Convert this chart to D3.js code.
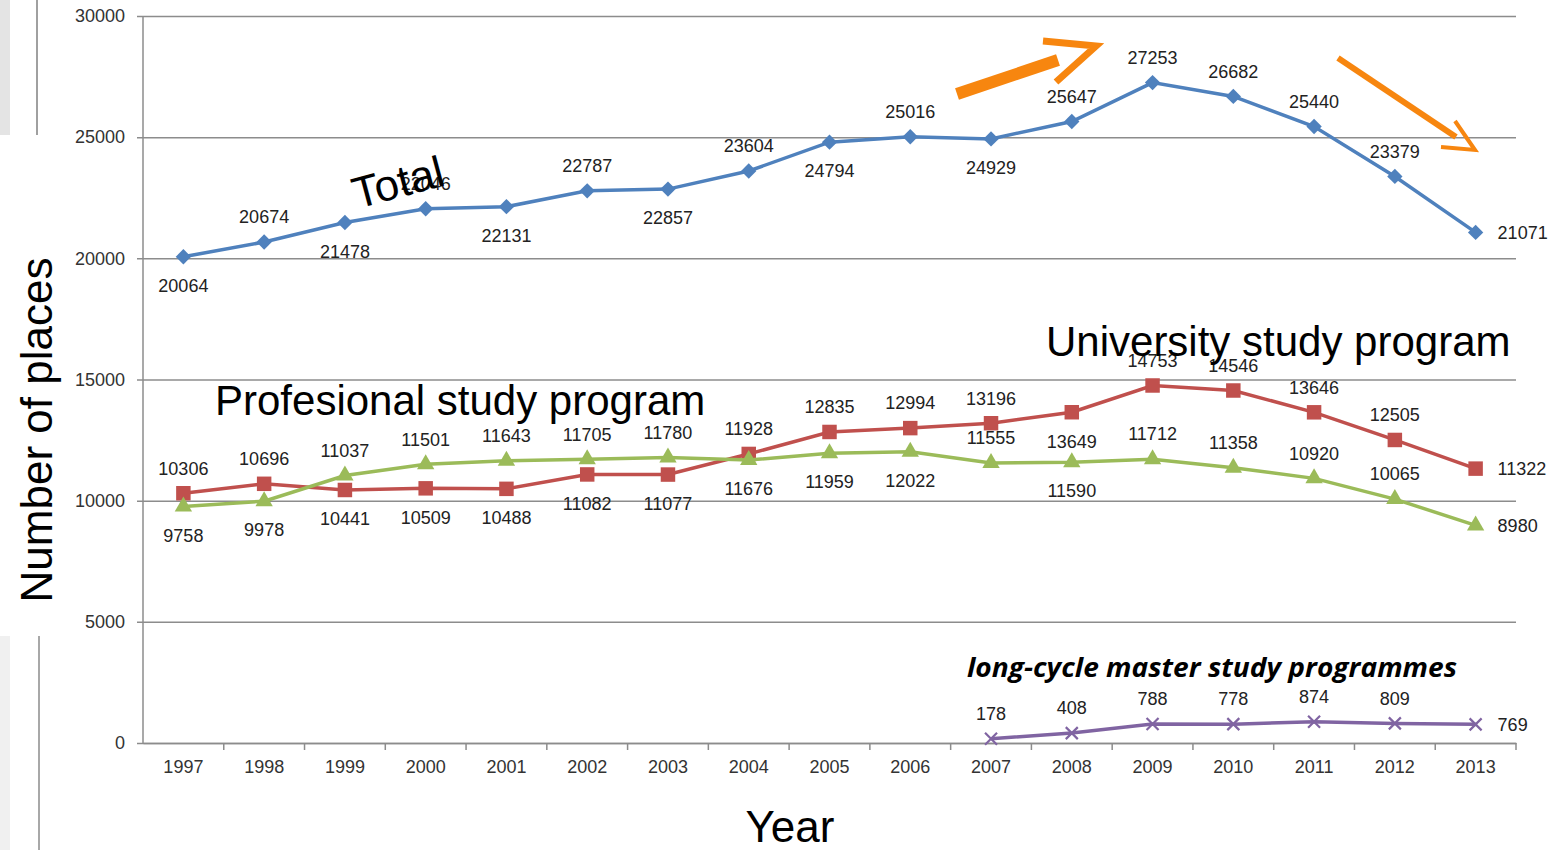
<!DOCTYPE html>
<html>
<head>
<meta charset="utf-8">
<script src="https://cdn.jsdelivr.net/npm/d3@7"></script>
<style>
  body { margin: 0; background: #fff; }
  svg { display: block; font-family: "Liberation Sans", Arial, sans-serif; }
</style>
</head>
<body>
<div id="chart-area"></div>
<script>
// data
const years = ["1997","1998","1999","2000","2001","2002","2003","2004","2005","2006","2007","2008","2009","2010","2011","2012","2013"];
const totalPlaces = [20064,20674,21478,22046,22131,22787,22857,23604,24794,25016,24929,25647,27253,26682,25440,23379,21071];
const universityPlaces = [10306,10696,10441,10509,10488,11082,11077,11928,12835,12994,13196,13649,14753,14546,13646,12505,11322];
const professionalPlaces = [9758,9978,11037,11501,11643,11705,11780,11676,11959,12022,11555,11590,11712,11358,10920,10065,8980];
const masterYears = ["2007","2008","2009","2010","2011","2012","2013"];
const masterPlaces = [178,408,788,778,874,809,769];
const yTicks = [0,5000,10000,15000,20000,25000,30000];

// where each value label sits: a = above, b = below, r = right
const totalLabelSide = ["b","a","b","a","b","a","b","a","b","a","b","a","a","a","a","a","r"];
const universityLabelSide = ["a","a","b","b","b","b","b","a","a","a","a","b","a","a","a","a","r"];
const professionalLabelSide = ["b","b","a","a","a","a","a","b","b","b","a","b","a","a","a","a","r"];
const masterLabelSide = ["a","a","a","a","a","a","r"];

const chartWidth = 1562;
const chartHeight = 850;
const margin = {top: 16, right: 46, bottom: 107, left: 143};

const width = chartWidth - margin.left - margin.right;
const height = chartHeight - margin.top - margin.bottom;

let svg = d3.select("#chart-area").append("svg")
    .attr("width", chartWidth)
    .attr("height", chartHeight);

// slide leftovers on the left edge
svg.append("rect").attr("x", 0).attr("y", 0).attr("width", 10).attr("height", 135).attr("fill", "#e4e4e4");
svg.append("line").attr("x1", 37).attr("x2", 37).attr("y1", 0).attr("y2", 135)
    .attr("stroke", "#a0a0a0").attr("stroke-width", 2);
svg.append("rect").attr("x", 0).attr("y", 636).attr("width", 10).attr("height", 214).attr("fill", "#f0f0f0");
svg.append("line").attr("x1", 39).attr("x2", 39).attr("y1", 636).attr("y2", 850)
    .attr("stroke", "#a8a8a8").attr("stroke-width", 2);

let g = svg.append("g")
    .attr("transform", `translate(${margin.left}, ${margin.top})`);

const x = d3.scaleBand()
    .domain(years)
    .range([0, width])
    .padding(0);

const y = d3.scaleLinear()
    .domain([0, 30000])
    .range([height, 0]);

const cx = (yr) => x(yr) + x.bandwidth() / 2;

// gridlines + y axis
let yAxisCall = d3.axisLeft(y).tickValues(yTicks).tickFormat(d3.format("d"))
    .tickSize(-width).tickSizeOuter(0).tickPadding(18);
let yAxis = g.append("g").attr("class", "y-axis").call(yAxisCall);
yAxis.select(".domain").remove();
yAxis.selectAll(".tick line").attr("stroke", "#8c8c8c").attr("stroke-width", 1.5).attr("x1", -6);
yAxis.selectAll(".tick text").attr("font-size", "18px").attr("fill", "#333");

g.append("line")
    .attr("x1", 0).attr("x2", 0).attr("y1", 0).attr("y2", height)
    .attr("stroke", "#8c8c8c").attr("stroke-width", 1.5);

// x axis with ticks between categories
let xAxisCall = d3.axisBottom(x).tickSize(0).tickPadding(17);
let xAxis = g.append("g")
    .attr("class", "x-axis")
    .attr("transform", `translate(0, ${height})`)
    .call(xAxisCall);
xAxis.select(".domain").attr("stroke", "#8c8c8c").attr("stroke-width", 1.5);
xAxis.selectAll(".tick text").attr("font-size", "18px").attr("fill", "#333");
xAxis.selectAll(".sep").data(years).enter().append("line")
    .attr("class", "sep")
    .attr("x1", (d, i) => x.bandwidth() * (i + 1))
    .attr("x2", (d, i) => x.bandwidth() * (i + 1))
    .attr("y1", 0).attr("y2", 7)
    .attr("stroke", "#8c8c8c").attr("stroke-width", 1.5);

// one series: line, markers, labels
function drawSeries(cats, values, sides, color, shape, size) {
  const pts = cats.map((c, i) => ({x: cx(c), y: y(values[i]), v: values[i], side: sides[i]}));

  g.append("path")
      .datum(pts)
      .attr("fill", "none")
      .attr("stroke", color)
      .attr("stroke-width", 3.5)
      .attr("d", d3.line().x(d => d.x).y(d => d.y));

  if (shape === "x") {
    const s = size / 2;
    g.selectAll(null).data(pts).enter().append("path")
        .attr("d", d => `M${d.x - s},${d.y - s}L${d.x + s},${d.y + s}M${d.x - s},${d.y + s}L${d.x + s},${d.y - s}`)
        .attr("stroke", color)
        .attr("stroke-width", 2.2)
        .attr("fill", "none");
  } else {
    g.selectAll(null).data(pts).enter().append("path")
        .attr("transform", d => `translate(${d.x},${d.y})`)
        .attr("d", d3.symbol().type(shape).size(size))
        .attr("fill", color);
  }

  g.selectAll(null).data(pts).enter().append("text")
      .attr("x", d => d.side === "r" ? d.x + 22 : d.x)
      .attr("y", d => d.side === "a" ? d.y - 25 : d.side === "b" ? d.y + 29 : d.y)
      .attr("dy", "0.35em")
      .attr("text-anchor", d => d.side === "r" ? "start" : "middle")
      .attr("font-size", "18px")
      .attr("fill", "#222")
      .text(d => d.v);
}

drawSeries(years, totalPlaces, totalLabelSide, "#4f81bd", d3.symbolDiamond2, 150);
drawSeries(years, universityPlaces, universityLabelSide, "#c0504d", d3.symbolSquare, 210);
drawSeries(years, professionalPlaces, professionalLabelSide, "#9bbb59", d3.symbolTriangle, 130);
drawSeries(masterYears, masterPlaces, masterLabelSide, "#8064a2", "x", 12);

// axis titles
svg.append("text")
    .attr("transform", "translate(52, 430) rotate(-90)")
    .attr("text-anchor", "middle")
    .attr("font-size", "44px")
    .attr("fill", "#000")
    .text("Number of places");

svg.append("text")
    .attr("x", 790)
    .attr("y", 842)
    .attr("text-anchor", "middle")
    .attr("font-size", "44px")
    .attr("fill", "#000")
    .text("Year");

// series annotations
svg.append("text")
    .attr("transform", "translate(357, 209) rotate(-15)")
    .attr("font-size", "44px")
    .attr("fill", "#000")
    .text("Total");

svg.append("text")
    .attr("x", 1046).attr("y", 356)
    .attr("font-size", "42px")
    .attr("fill", "#000")
    .text("University study program");

svg.append("text")
    .attr("x", 215).attr("y", 415)
    .attr("font-size", "42px")
    .attr("fill", "#000")
    .text("Profesional study program");

svg.append("text")
    .attr("x", 967).attr("y", 677)
    .attr("font-family", "'Open Sans', sans-serif")
    .attr("font-size", "27px")
    .attr("font-style", "italic")
    .attr("font-weight", "bold")
    .attr("fill", "#000")
    .attr("textLength", 490)
    .attr("lengthAdjust", "spacingAndGlyphs")
    .text("long-cycle master study programmes");

// orange trend arrows
const orange = "#f7860f";
svg.append("line").attr("x1", 957).attr("y1", 94).attr("x2", 1058).attr("y2", 60)
    .attr("stroke", orange).attr("stroke-width", 12);
svg.append("polyline").attr("points", "1043,41 1096,46 1056,82")
    .attr("fill", "none").attr("stroke", orange).attr("stroke-width", 7);
svg.append("line").attr("x1", 1338).attr("y1", 58).attr("x2", 1456).attr("y2", 137)
    .attr("stroke", orange).attr("stroke-width", 6);
svg.append("polyline").attr("points", "1455,121 1475,150 1441,147")
    .attr("fill", "none").attr("stroke", orange).attr("stroke-width", 4);
</script>
</body>
</html>
